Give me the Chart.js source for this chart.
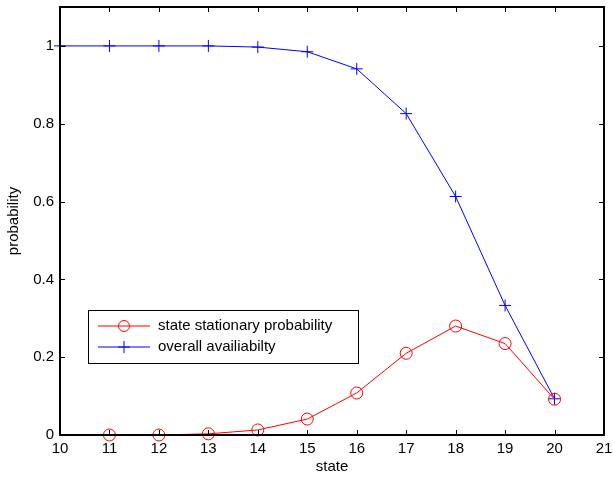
<!DOCTYPE html>
<html>
<head>
<meta charset="utf-8">
<script src="https://cdn.jsdelivr.net/npm/chart.js@4"></script>
<style>
  html, body { margin: 0; padding: 0; background: #fff; }
  #wrap { width: 613px; height: 485px; }
</style>
</head>
<body>
<div id="wrap"><canvas id="c" width="613" height="485"></canvas></div>
<script>
// data
const states = [10, 11, 12, 13, 14, 15, 16, 17, 18, 19, 20];
const stationaryProb = [0, 0, 0, 0.003, 0.013, 0.041, 0.108, 0.21, 0.28, 0.235, 0.092];
const availability = [1, 1, 1, 1, 0.997, 0.985, 0.941, 0.826, 0.613, 0.333, 0.093];
const xTicks = [10, 11, 12, 13, 14, 15, 16, 17, 18, 19, 20, 21];
const yTicks = [0, 0.2, 0.4, 0.6, 0.8, 1];
const seriesNames = ['state stationary probability', 'overall availiabilty'];

const FONT = 'Arial, "Liberation Sans", Helvetica, sans-serif';
Chart.defaults.font.family = FONT;
Chart.defaults.color = '#000';

// box round the plot + inward ticks on all four sides (matlab look)
const boxPlugin = {
    id: 'box',
    afterDatasetsDraw(chart) {
        const ctx = chart.ctx;
        const a = chart.chartArea;
        const xs = chart.scales.x, ys = chart.scales.y;
        const len = 5;
        ctx.save();
        ctx.strokeStyle = '#000';
        ctx.lineWidth = 1;
        ctx.beginPath();
        xTicks.forEach(v => {
            const px = Math.round(xs.getPixelForValue(v)) + 0.5;
            ctx.moveTo(px, a.bottom); ctx.lineTo(px, a.bottom - len);
            ctx.moveTo(px, a.top); ctx.lineTo(px, a.top + len);
        });
        yTicks.forEach(v => {
            const py = Math.round(ys.getPixelForValue(v)) + 0.5;
            ctx.moveTo(a.left, py); ctx.lineTo(a.left + len, py);
            ctx.moveTo(a.right, py); ctx.lineTo(a.right - len, py);
        });
        ctx.stroke();
        ctx.lineWidth = 2;
        ctx.strokeRect(a.left, a.top, a.right - a.left, a.bottom - a.top);
        ctx.restore();
    }
};

// legend box inside the axes, lower left
const legendPlugin = {
    id: 'boxLegend',
    afterDraw(chart) {
        const ctx = chart.ctx;
        const x0 = 88, y0 = 310, w = 270, h = 53;
        ctx.save();
        ctx.fillStyle = '#fff';
        ctx.fillRect(x0, y0, w, h);
        ctx.strokeStyle = '#000';
        ctx.lineWidth = 1;
        ctx.strokeRect(x0 + 0.5, y0 + 0.5, w, h);
        ctx.font = '15px ' + FONT;
        ctx.textBaseline = 'middle';
        chart.data.datasets.forEach((ds, i) => {
            const cy = y0 + 16 + i * 21;
            ctx.strokeStyle = ds.borderColor;
            ctx.lineWidth = 1;
            ctx.beginPath();
            ctx.moveTo(x0 + 10, cy); ctx.lineTo(x0 + 62, cy);
            ctx.stroke();
            const cx = x0 + 36;
            ctx.beginPath();
            if (i === 0) {
                ctx.arc(cx, cy, 5.5, 0, Math.PI * 2);
            } else {
                ctx.moveTo(cx - 6, cy); ctx.lineTo(cx + 6, cy);
                ctx.moveTo(cx, cy - 6); ctx.lineTo(cx, cy + 6);
            }
            ctx.stroke();
            ctx.fillStyle = '#000';
            ctx.fillText(ds.label, x0 + 70, cy);
        });
        ctx.restore();
    }
};

const ctx = document.getElementById('c').getContext('2d');
new Chart(ctx, {
    type: 'line',
    data: {
        datasets: [
            {
                label: seriesNames[0],
                data: states.map((s, i) => ({ x: s, y: stationaryProb[i] })),
                borderColor: '#ff0000',
                backgroundColor: 'rgba(0,0,0,0)',
                borderWidth: 1,
                pointStyle: 'circle',
                pointRadius: states.map((s, i) => i === 0 ? 0 : 6),
                pointBorderWidth: 1,
                pointBorderColor: '#ff0000',
                pointBackgroundColor: 'rgba(0,0,0,0)',
                tension: 0,
                clip: false
            },
            {
                label: seriesNames[1],
                data: states.map((s, i) => ({ x: s, y: availability[i] })),
                borderColor: '#0000ff',
                backgroundColor: 'rgba(0,0,0,0)',
                borderWidth: 1,
                pointStyle: 'cross',
                pointRadius: 6,
                pointBorderWidth: 1,
                pointBorderColor: '#0000ff',
                pointBackgroundColor: '#0000ff',
                tension: 0,
                clip: false
            }
        ]
    },
    options: {
        responsive: false,
        animation: false,
        layout: { padding: { left: 0, right: 9, top: 7, bottom: 0 } },
        plugins: {
            legend: { display: false },
            tooltip: { enabled: false }
        },
        scales: {
            x: {
                type: 'linear',
                min: 10,
                max: 21,
                afterBuildTicks: s => { s.ticks = xTicks.map(v => ({ value: v })); },
                afterFit: s => { s.height = 50; s.paddingLeft = 0; s.paddingRight = 0; },
                grid: { display: false, drawTicks: false },
                border: { display: false },
                ticks: { font: { size: 15 }, padding: 5, maxRotation: 0 },
                title: { display: true, text: 'state', font: { size: 15 }, padding: { top: 0, bottom: 9 } }
            },
            y: {
                type: 'linear',
                min: 0,
                max: 1.1,
                afterBuildTicks: s => { s.ticks = yTicks.map(v => ({ value: v })); },
                afterFit: s => { s.width = 60; s.paddingTop = 0; s.paddingBottom = 0; },
                grid: { display: false, drawTicks: false },
                border: { display: false },
                ticks: { font: { size: 15 }, padding: 6, callback: v => String(v) },
                title: { display: true, text: 'probability', font: { size: 15 }, padding: { top: 5, bottom: 0 } }
            }
        }
    },
    plugins: [boxPlugin, legendPlugin]
});
</script>
</body>
</html>
